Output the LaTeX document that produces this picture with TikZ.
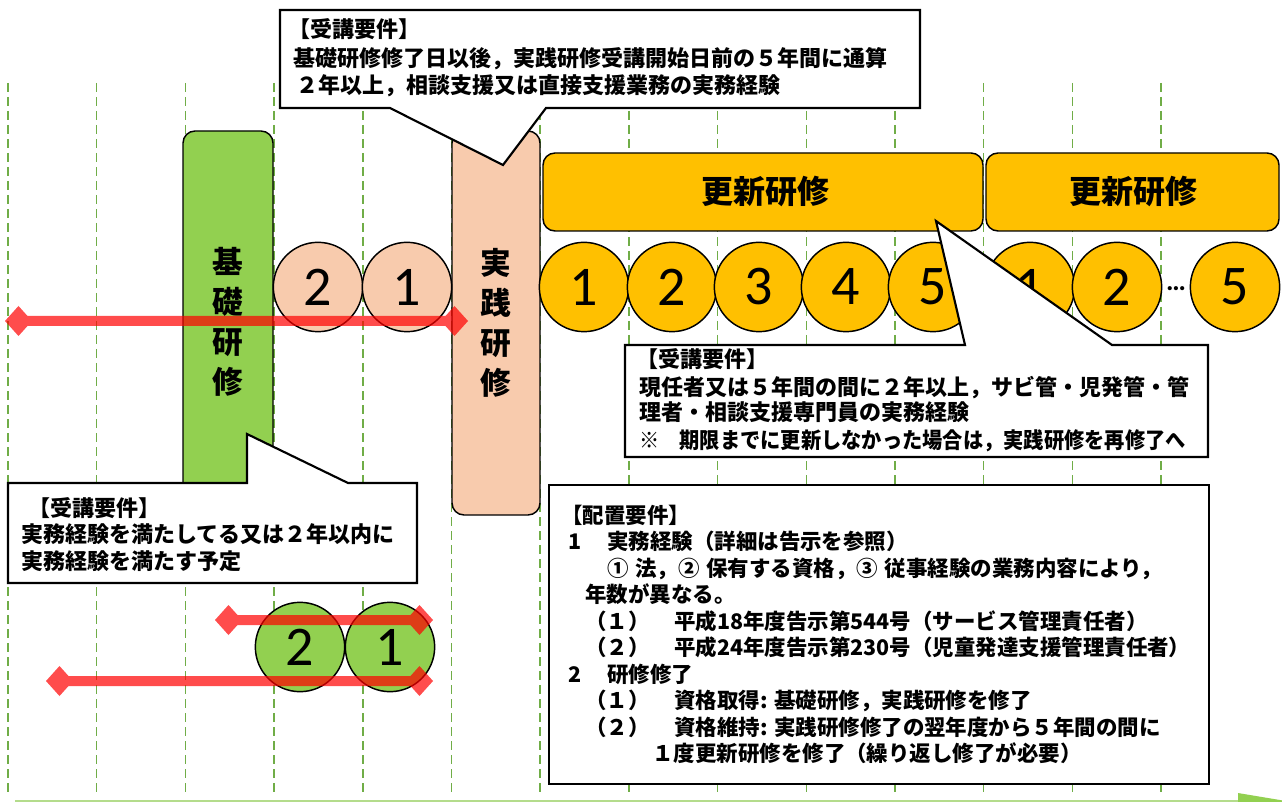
\documentclass[tikz,border=0pt]{standalone}
\usepackage{fontspec}
\setmainfont{Noto Sans CJK JP}
\newfontfamily\jp{Noto Sans CJK JP}
\newfontfamily\numf{Carlito}
\usetikzlibrary{calc}
\definecolor{gridg}{HTML}{70AD47}
\definecolor{kgreen}{HTML}{92D050}
\definecolor{peach}{HTML}{F8CBAD}
\definecolor{gold}{HTML}{FFC000}
\definecolor{lgreen}{HTML}{B4DC8C}
\definecolor{rline}{HTML}{FF0000}
\tikzset{
 gridline/.style={draw=gridg, line width=1.1pt, dash pattern=on 6.75pt off 3.75pt},
 callout/.style={draw=black, fill=white, line width=1.6pt, line join=miter},
 ln/.style={anchor=base west, inner sep=0pt, font=\jp\bfseries\fontsize{16.5}{20}\selectfont},
 lnb/.style={anchor=base west, inner sep=0pt, font=\jp\bfseries\fontsize{16.1}{20}\selectfont},
 numc/.style={circle, draw=black, line width=1.1pt, minimum size=67pt, inner sep=0pt, font=\numf\fontsize{42}{42}\selectfont},
 vtext/.style={align=center, inner sep=0pt, font=\jp\bfseries\fontsize{23}{30}\selectfont},
 htext/.style={inner sep=0pt, font=\jp\bfseries\fontsize{24}{28}\selectfont},
 redfill/.style={fill=rline, fill opacity=0.7},
 trainbox/.style={draw=black, line width=1.1pt, rounded corners=9pt},
}
\newcommand{\redspan}[2]{%
 \fill[redfill] (#1) -- ++(13.5,-15) -- ++(9,10) -- ($(#2)+(-22.5,-5)$) -- ++(9,-10) -- (#2)
   -- ++(-13.5,15) -- ++(-9,-10) -- ($(#1)+(22.5,5)$) -- ++(-9,10) -- cycle;}
\begin{document}
\begin{tikzpicture}[x=0.75pt,y=-0.75pt]
\useasboundingbox (0,0) rectangle (1282,802);
\clip (0,0) rectangle (1282,802);
% grid
\foreach \i in {0,...,13} { \draw[gridline] ({8+88.7*\i},83) -- ({8+88.7*\i},797); }
% time axis
\coordinate (ba) at (15,801);
\coordinate (bb) at (1240,801);
\draw[lgreen, line width=2.2pt] (ba) -- (bb);
\fill[kgreen] (1238,793) -- (1292,802) -- (1238,811) -- cycle;
% training boxes
\draw[trainbox, fill=kgreen] (183,131) rectangle (273,540);
\node[vtext] (kiso) at (228,322) {基\\礎\\研\\修};
\draw[trainbox, fill=peach] (452,131) rectangle (540,515);
\node[vtext] (jissen) at (496,323) {実\\践\\研\\修};
\draw[trainbox, fill=gold] (543,153) rectangle (983,231);
\node[htext] (kosin1) at (765,191) {更新研修};
\draw[trainbox, fill=gold] (986,153) rectangle (1279,231);
\node[htext] (kosin2) at (1133,191) {更新研修};
% circles
\node[numc, fill=peach] (p2) at (318,287) {2};
\node[numc, fill=peach] (p1) at (407,287) {1};
\node[numc, fill=gold] (o1) at (584,287) {1};
\node[numc, fill=gold] (o2) at (672,287) {2};
\node[numc, fill=gold] (o3) at (759,287) {3};
\node[numc, fill=gold] (o4) at (846,287) {4};
\node[numc, fill=gold] (o5) at (933,287) {5};
\node[numc, fill=gold] (q1) at (1030,287) {1};
\node[numc, fill=gold] (q2) at (1117,287) {2};
\node[numc, fill=gold] (q5) at (1235,287) {5};
\node[anchor=base, inner sep=0pt, font=\numf\bfseries\fontsize{21}{21}\selectfont] (dots) at (1176,291) {…};
\node[numc, fill=kgreen] (g2) at (300,647) {2};
\node[numc, fill=kgreen] (g1) at (390,647) {1};
% red spans
\coordinate (r1a) at (5,321);
\coordinate (r1b) at (468,321);
\redspan{r1a}{r1b}
\coordinate (r2a) at (215,620);
\coordinate (r2b) at (433,620);
\redspan{r2a}{r2b}
\coordinate (r3a) at (46,681);
\coordinate (r3b) at (433,681);
\redspan{r3a}{r3b}
% callouts
\draw[callout] (280,10) -- (920,10) -- (920,108) -- (546,108) -- (503,165) -- (390,108) -- (280,108) -- cycle;
\draw[callout] (625,345) -- (965,345) -- (936,221) -- (1112,345) -- (1208,345) -- (1208,457) -- (625,457) -- cycle;
\draw[callout] (8,483) -- (247,483) -- (247,434) -- (348,483) -- (417,483) -- (417,583) -- (8,583) -- cycle;
\draw[callout, line width=2.2pt] (549,485) rectangle (1209,784);
% top callout text
\node[ln] (a1) at (288,38) {【受講要件】};
\node[ln] (a2) at (293,67) {基礎研修修了日以後，実践研修受講開始日前の５年間に通算};
\node[ln] (a3) at (296,94) {２年以上，相談支援又は直接支援業務の実務経験};
% middle callout text
\node[ln] (b1) at (636,368) {【受講要件】};
\node[ln] (b2) at (639,395) {現任者又は５年間の間に２年以上，サビ管・児発管・管};
\node[ln] (b3) at (639,421) {理者・相談支援専門員の実務経験};
\node[ln] (b4) at (639,448) {\scalebox{0.92}[1]{※　期限までに更新しなかった場合は，実践研修を再修了へ}};
% left callout text
\node[ln] (c1) at (28,516) {【受講要件】};
\node[ln] (c2) at (21,542) {実務経験を満たしてる又は２年以内に};
\node[ln] (c3) at (21,569) {実務経験を満たす予定};
% placement box text
\node[lnb] (d1) at (561,523) {【配置要件】};
\node[lnb] (d2n) at (568,549) {1};
\node[lnb] (d2) at (607,549) {実務経験（詳細は告示を参照）};
\node[lnb] (d3) at (607,576) {①\hspace{5pt}法，②\hspace{5pt}保有する資格，③\hspace{5pt}従事経験の業務内容により，};
\node[lnb] (d4) at (585,602) {年数が異なる。};
\node[lnb] (d5n) at (585,629) {（１）};
\node[lnb] (d5) at (674,629) {平成18年度告示第544号（サービス管理責任者）};
\node[lnb] (d6n) at (585,655) {（２）};
\node[lnb] (d6) at (674,655) {平成24年度告示第230号（児童発達支援管理責任者）};
\node[lnb] (d7n) at (568,682) {2};
\node[lnb] (d7) at (607,682) {研修修了};
\node[lnb] (d8n) at (585,708) {（１）};
\node[lnb] (d8) at (674,708) {資格取得: 基礎研修，実践研修を修了};
\node[lnb] (d9n) at (585,735) {（２）};
\node[lnb] (d9) at (674,735) {資格維持: 実践研修修了の翌年度から５年間の間に};
\node[lnb] (d10) at (652,761) {１度更新研修を修了（繰り返し修了が必要）};
\end{tikzpicture}
\end{document}
